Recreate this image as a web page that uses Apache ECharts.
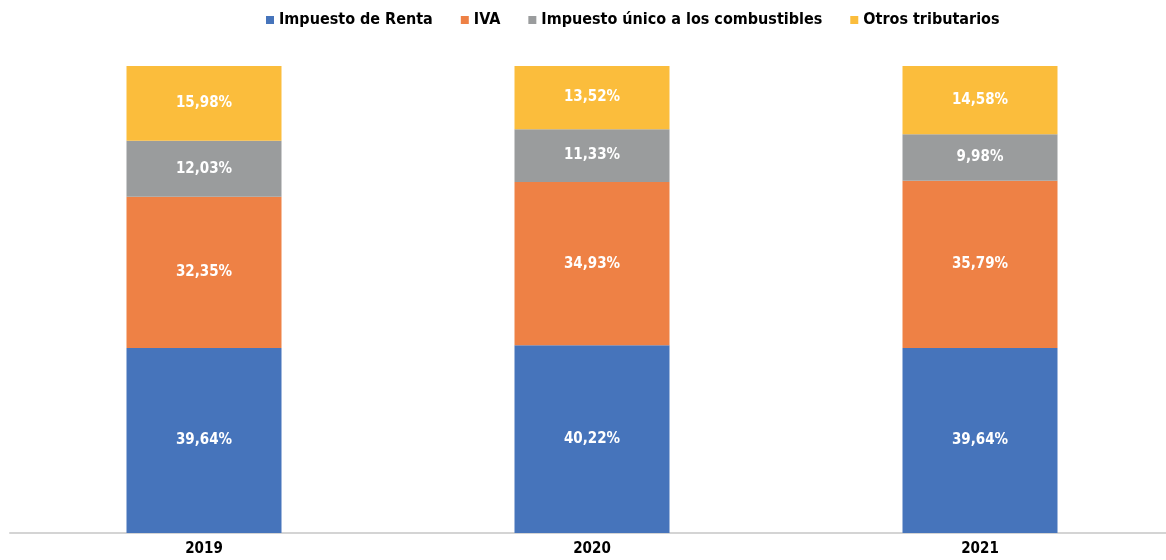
<!DOCTYPE html>
<html>
<head>
    <meta charset="utf-8" />
    <title>Ingresos tributarios</title>
    <script src="https://cdn.jsdelivr.net/npm/echarts@6/dist/echarts.min.js"></script>
    <style>
        *{ margin:0; padding:0; }
        body{ background:#fff; overflow:hidden; }
        /* el eje sigue un poco más allá del borde derecho */
        #main{ width:1174px; height:560px; }
    </style>
</head>
<body>
<div id="main"></div>
<script type="text/javascript">
    // datos
    var years = ['2019', '2020', '2021'];
    var renta = [39.64, 40.22, 39.64];
    var iva = [32.35, 34.93, 35.79];
    var combustibles = [12.03, 11.33, 9.98];
    var otros = [15.98, 13.52, 14.58];

    var fuente = '"DejaVu Sans Condensed", "DejaVu Sans", sans-serif';

    function serie(nombre, datos, color){
        return {
            name: nombre,
            type: 'bar',
            stack: 'total',
            barWidth: 155,
            itemStyle: { color: color },
            label: {
                show: true,
                position: 'inside',
                color: '#fff',
                fontFamily: fuente,
                fontWeight: 'bold',
                fontSize: 15,
                formatter: function(p){
                    return p.value.toFixed(2).replace('.', ',') + '%';
                }
            },
            data: datos
        };
    }

    var myChart = echarts.init(document.getElementById('main'));

    var option = {
        animation: false,
        legend: {
            top: 7,
            left: 261,
            icon: 'rect',
            itemWidth: 8,
            itemHeight: 8,
            itemGap: 28,
            textStyle: {
                fontFamily: fuente,
                fontWeight: 'bold',
                fontSize: 16,
                color: '#000'
            }
        },
        grid: {
            left: 10,
            right: 0,
            top: 66,
            bottom: 27,
            containLabel: false
        },
        xAxis: {
            type: 'category',
            data: years,
            axisLine: { lineStyle: { color: '#d4d4d4', width: 2 } },
            axisTick: { show: false },
            axisLabel: {
                margin: 9,
                color: '#000',
                fontFamily: fuente,
                fontWeight: 'bold',
                fontSize: 15
            }
        },
        yAxis: {
            type: 'value',
            min: 0,
            max: 100,
            show: false,
            splitLine: { show: false }
        },
        series: [
            serie('Impuesto de Renta', renta, '#4674BB'),
            serie('IVA', iva, '#EE8145'),
            serie('Impuesto único a los combustibles', combustibles, '#9A9C9D'),
            serie('Otros tributarios', otros, '#FBBD3C')
        ]
    };

    myChart.setOption(option);
    window.onresize = myChart.resize;
</script>
</body>
</html>
